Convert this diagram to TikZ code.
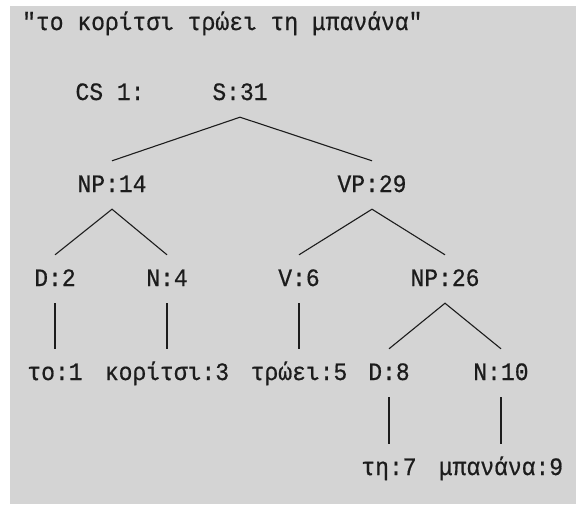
\documentclass[tikz,border=0pt]{standalone}
\usepackage{fontspec}
\newfontfamily\treefont[FakeStretch=0.92, FakeBold=0.6]{Liberation Mono}
\definecolor{panel}{RGB}{212,212,212}
\definecolor{ink}{RGB}{28,28,28}
\begin{document}
\begin{tikzpicture}[x=1pt, y=-1pt,
  lbl/.style={font=\treefont\fontsize{25}{28}\selectfont, text=ink, inner sep=0pt,
              text height=31pt, text depth=17pt, anchor=base},
  branch/.style={draw=ink, line width=1.1pt}]
  % page and grey panel
  \useasboundingbox[fill=white] (0,0) rectangle (577,504);
  \fill[panel] (10,6) rectangle (576,504);

  % sentence and parse label
  \node[font=\treefont\fontsize{25}{28}\selectfont, text=ink, inner sep=0pt, anchor=base west]
    (title) at (22,30) {"το κορίτσι τρώει τη μπανάνα"};
  \node[lbl] (cs) at (110,100) {CS 1:};

  % tree nodes
  \node[lbl] (s)    at (240,100) {S:31};
  \node[lbl] (np14) at (112,192) {NP:14};
  \node[lbl] (vp)   at (372,192) {VP:29};
  \node[lbl] (d2)   at (55,286)  {D:2};
  \node[lbl] (n4)   at (167,286) {N:4};
  \node[lbl] (v6)   at (299,286) {V:6};
  \node[lbl] (np26) at (445,286) {NP:26};
  \node[lbl] (w1)   at (55,380)  {το:1};
  \node[lbl] (w3)   at (167,380) {κορίτσι:3};
  \node[lbl] (w5)   at (299,380) {τρώει:5};
  \node[lbl] (d8)   at (389,380) {D:8};
  \node[lbl] (n10)  at (501,380) {N:10};
  \node[lbl] (w7)   at (389,475) {τη:7};
  \node[lbl] (w9)   at (501,475) {μπανάνα:9};

  % branches
  \draw[branch] (np14.north) -- (s.south) -- (vp.north);
  \draw[branch] (d2.north) -- (np14.south) -- (n4.north);
  \draw[branch] (v6.north) -- (vp.south) -- (np26.north);
  \draw[branch] (d8.north) -- (np26.south) -- (n10.north);
  \draw[branch] (d2.south) -- (w1.north);
  \draw[branch] (n4.south) -- (w3.north);
  \draw[branch] (v6.south) -- (w5.north);
  \draw[branch] (d8.south) -- (w7.north);
  \draw[branch] (n10.south) -- (w9.north);
\end{tikzpicture}
\end{document}
